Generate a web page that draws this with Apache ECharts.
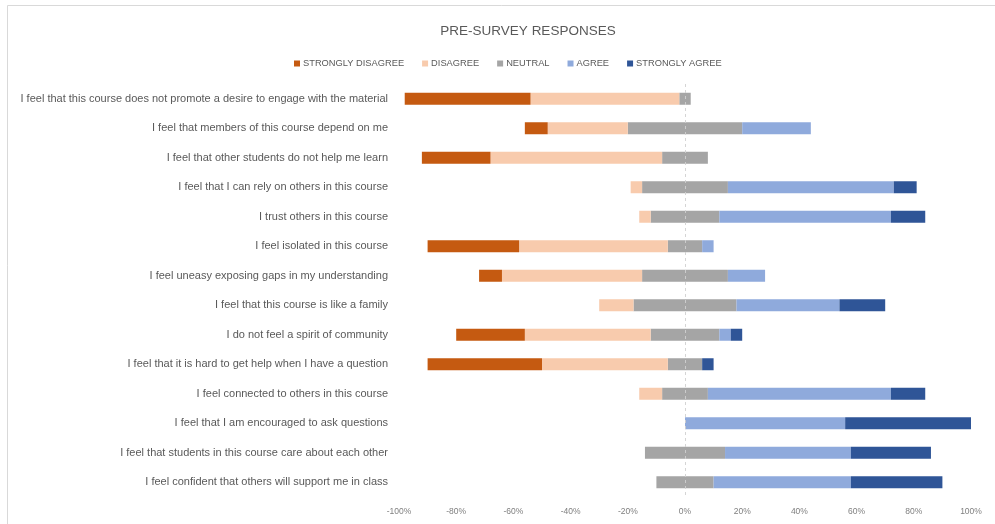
<!DOCTYPE html>
<html>
<head>
<meta charset="utf-8">
<script src="https://cdn.jsdelivr.net/npm/echarts@6/dist/echarts.min.js"></script>
<style>
html,body{margin:0;padding:0;background:#fff;}
#c{width:995px;height:524px;}
</style>
</head>
<body>
<div id="c"></div>
<script>
const categories = [
  "I feel that this course does not promote a desire to engage with the material",
  "I feel that members of this course depend on me",
  "I feel that other students do not help me learn",
  "I feel that I can rely on others in this course",
  "I trust others in this course",
  "I feel isolated in this course",
  "I feel uneasy exposing gaps in my understanding",
  "I feel that this course is like a family",
  "I do not feel a spirit of community",
  "I feel that it is hard to get help when I have a question",
  "I feel connected to others in this course",
  "I feel that I am encouraged to ask questions",
  "I feel that students in this course care about each other",
  "I feel confident that others will support me in class"
];
const stronglyDisagree = [44, 8, 24, 0, 0, 32, 8, 0, 24, 40, 0, 0, 0, 0];
const disagree         = [52, 28, 60, 4, 4, 52, 49, 12, 44, 44, 8, 0, 0, 0];
const neutral          = [4, 40, 16, 30, 24, 12, 30, 36, 24, 12, 16, 0, 28, 20];
const agree            = [0, 24, 0, 58, 60, 4, 13, 36, 4, 0, 64, 56, 44, 48];
const stronglyAgree    = [0, 0, 0, 8, 12, 0, 0, 16, 4, 4, 12, 44, 28, 32];
const xTicks = [-100, -80, -60, -40, -20, 0, 20, 40, 60, 80, 100];
const legendNames = ["STRONGLY DISAGREE", "DISAGREE", "NEUTRAL", "AGREE", "STRONGLY AGREE"];
const colors = {SD: "#C55A11", D: "#F8CBAD", N: "#A5A5A5", A: "#8FAADC", SA: "#2F5597"};
const legendColors = [colors.SD, colors.D, colors.N, colors.A, colors.SA];

const chart = echarts.init(document.getElementById('c'), null, {renderer: 'canvas'});
const barW = 12;
function mk(name, data, color, extra) {
  return Object.assign({
    name: name, type: 'bar', stack: 'total', stackStrategy: 'samesign',
    barWidth: barW, data: data, itemStyle: {color: color}, emphasis: {disabled: true}
  }, extra || {});
}
const series = [
  mk("NEUTRAL", neutral.map(v => -v / 2), colors.N),
  mk("DISAGREE", disagree.map(v => -v), colors.D),
  mk("STRONGLY DISAGREE", stronglyDisagree.map(v => -v), colors.SD),
  mk("NEUTRAL", neutral.map(v => v / 2), colors.N),
  mk("AGREE", agree, colors.A),
  mk("STRONGLY AGREE", stronglyAgree, colors.SA, {
    markLine: {
      silent: true, symbol: 'none', label: {show: false},
      lineStyle: {color: '#d0d0d0', type: [3, 3], width: 1, opacity: 0.9},
      data: [{xAxis: 0}]
    }
  })
];

chart.setOption({
  animation: false,
  backgroundColor: '#ffffff',
  graphic: [{
    type: 'rect', silent: true,
    shape: {x: 7.5, y: 5.5, width: 1000, height: 530},
    style: {fill: 'none', stroke: '#d9d9d9', lineWidth: 1}
  }],
  title: {
    text: 'PRE-SURVEY RESPONSES',
    left: 523, top: 19, textAlign: 'center',
    textStyle: {fontFamily: 'Liberation Sans', fontSize: 13.5, fontWeight: 'normal', color: '#595959'}
  },
  legend: {
    data: legendNames.map((n, i) => ({name: n, itemStyle: {color: legendColors[i]}})),
    left: 289, top: 54, icon: 'rect', itemWidth: 6, itemHeight: 6, itemGap: 18,
    textStyle: {fontFamily: 'Liberation Sans', fontSize: 9.3, color: '#595959', padding: [0, 0, 0, -2]}
  },
  grid: {left: 399, right: 24, top: 84, bottom: 27, containLabel: false},
  xAxis: {
    type: 'value', min: -100, max: 100, interval: 20,
    axisLine: {show: false}, axisTick: {show: false}, splitLine: {show: false},
    axisLabel: {
      formatter: v => v + '%', margin: 10,
      fontFamily: 'Liberation Sans', fontSize: 8.5, color: '#7f7f7f'
    }
  },
  yAxis: {
    type: 'category', data: categories, inverse: true,
    axisLine: {show: false}, axisTick: {show: false},
    axisLabel: {fontFamily: 'Liberation Sans', fontSize: 11, color: '#595959', margin: 11}
  },
  series: series
});
</script>
</body>
</html>
